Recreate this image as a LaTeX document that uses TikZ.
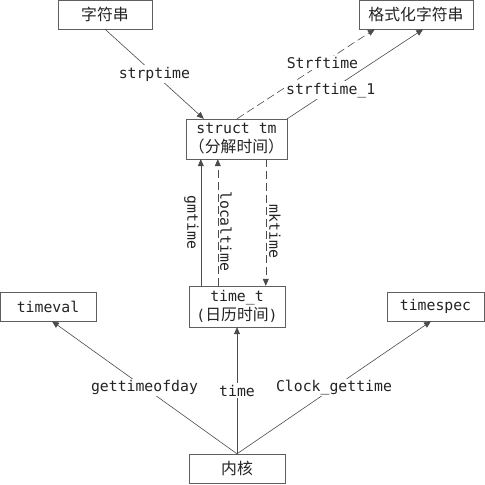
\documentclass[tikz,border=0pt]{standalone}
\usepackage{fontspec}
\setmonofont{DejaVu Sans Mono}
\newfontfamily\cjk[Scale=1.07]{Noto Sans CJK SC}
\usetikzlibrary{arrows.meta,shadows}
\definecolor{boxLine}{RGB}{95,95,95}
\definecolor{arrLine}{RGB}{75,75,75}
\definecolor{txtGray}{RGB}{35,35,35}

\begin{document}
\begin{tikzpicture}[x=1pt, y=-1pt,
  font=\fontsize{14.8}{19}\selectfont\ttfamily, text=txtGray,
  box/.style={draw=boxLine, fill=white, inner sep=0pt, align=center,
    drop shadow={shadow xshift=1.2pt, shadow yshift=-1.2pt, opacity=0.35, fill=gray}},
  conn/.style={draw=arrLine, line width=0.6pt, -{Triangle[length=7pt,width=6pt]}},
  dashconn/.style={conn, dash pattern=on 8pt off 4pt},
  lbl/.style={fill=white, inner sep=1.5pt}]
\useasboundingbox (0,0) rectangle (485,485);
%% ---- boxes ----
\node[box, minimum width=94pt,  minimum height=29pt] (str)      at (105,14.5)   {{\cjk 字符串}};
\node[box, minimum width=114pt, minimum height=29pt] (fmtstr)   at (416,14.5)   {{\cjk 格式化字符串}};
\node[box, minimum width=101pt, minimum height=40pt] (tm)       at (236.5,139)  {struct tm\\{\cjk （分解时间）}};
\node[box, minimum width=96pt,  minimum height=41pt] (timet)    at (237,306.5)  {time\_t\\({\cjk 日历时间})};
\node[box, minimum width=96pt,  minimum height=29pt] (timeval)  at (48,306.5)   {timeval};
\node[box, minimum width=97pt,  minimum height=29pt] (timespec) at (435.5,306.5) {timespec};
\node[box, minimum width=96pt,  minimum height=29pt] (kernel)   at (237,468.5)  {{\cjk 内核}};
%% ---- string <-> struct tm ----
\draw[conn] (str.south) -- node[lbl] (lstrp) {strptime} ([xshift=18pt]tm.north west);
\draw[dashconn] ([xshift=0.5pt]tm.north) -- node[lbl, pos=0.62] (lstrf) {Strftime} ([xshift=16pt]fmtstr.south west);
\draw[conn] (tm.north east) -- node[lbl, pos=0.32] (lstrf1) {strftime\_1} ([xshift=-50pt]fmtstr.south east);
%% ---- struct tm <-> time_t ----
\draw[conn] ([xshift=12pt]timet.north west) -- node[pos=0.5, rotate=-90, anchor=north, inner sep=2pt] (lgm) {gmtime} ([xshift=12pt]timet.north west |- tm.south);
\draw[dashconn] ([xshift=29pt]timet.north west) -- node[pos=0.43, rotate=-90, anchor=south, inner sep=2pt] (lloc) {localtime} ([xshift=29pt]timet.north west |- tm.south);
\draw[dashconn] ([xshift=80pt]tm.south west) -- node[pos=0.57, rotate=-90, anchor=south, inner sep=3pt] (lmk) {mktime} ([xshift=80pt]tm.south west |- timet.north);
%% ---- kernel ----
\draw[conn] (kernel.north) -- node[lbl] (lgtod) {gettimeofday} ([xshift=4pt]timeval.south);
\draw[conn] (kernel.north) -- node[lbl] (ltime) {time} (timet.south);
\draw[conn] (kernel.north) -- node[lbl] (lclk) {Clock\_gettime} ([xshift=-4.5pt]timespec.south);
\end{tikzpicture}
\end{document}
